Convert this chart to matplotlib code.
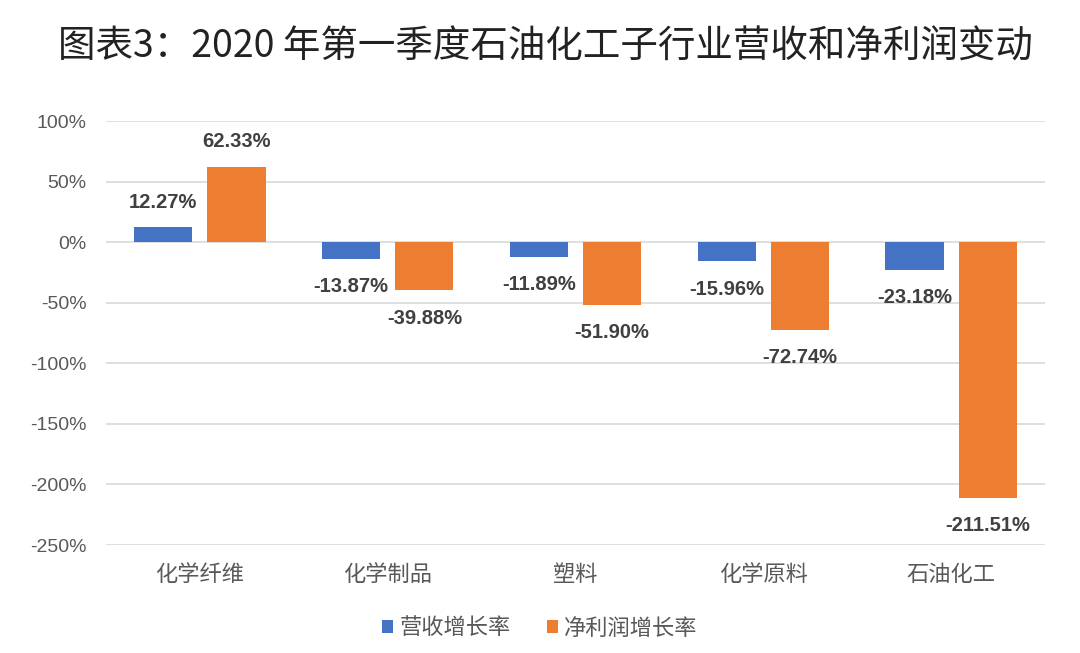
import matplotlib.pyplot as plt
import numpy as np

plt.rcParams['font.family'] = ['Liberation Sans', 'Noto Sans CJK SC', 'DejaVu Sans']

# data
categories = ["化学纤维", "化学制品", "塑料", "化学原料", "石油化工"]
revenue_growth = [12.27, -13.87, -11.89, -15.96, -23.18]
profit_growth = [62.33, -39.88, -51.90, -72.74, -211.51]
series_names = ["营收增长率", "净利润增长率"]
yticks = [100, 50, 0, -50, -100, -150, -200, -250]

blue = '#4472C4'
orange = '#ED7D31'

fig = plt.figure(figsize=(10.8, 6.53), dpi=100)
ax = fig.add_axes([106 / 1080, 1 - 545 / 653, (1045 - 106) / 1080, (545 - 121) / 653])

x = np.arange(len(categories))
w = 0.31
off = 0.195
b1 = ax.bar(x - off, revenue_growth, w, color=blue, zorder=3, label=series_names[0])
b2 = ax.bar(x + off, profit_growth, w, color=orange, zorder=3, label=series_names[1])

# value labels
for bars, vals in ((b1, revenue_growth), (b2, profit_growth)):
    for rect, v in zip(bars, vals):
        cx = rect.get_x() + rect.get_width() / 2
        if v >= 0:
            ax.annotate(f"{v:.2f}%", (cx, v), xytext=(0, 11), textcoords='offset points',
                        ha='center', va='bottom', fontsize=14.5, fontweight='bold',
                        color='#404040', family=['Liberation Sans', 'DejaVu Sans'])
        else:
            ax.annotate(f"{v:.2f}%", (cx, v), xytext=(0, -13), textcoords='offset points',
                        ha='center', va='top', fontsize=14.5, fontweight='bold',
                        color='#404040', family=['Liberation Sans', 'DejaVu Sans'])

ax.set_xlim(-0.5, len(categories) - 0.5)
ax.set_ylim(-250, 100)
ax.set_yticks(yticks)
ax.set_yticklabels([f"{t}%" for t in yticks], fontsize=14, color='#595959')
ax.set_xticks(x)
ax.set_xticklabels(categories, fontsize=16, color='#595959',
                   family=['Noto Sans CJK SC', 'DejaVu Sans'])
ax.tick_params(axis='both', length=0)
ax.tick_params(axis='x', pad=13)
ax.tick_params(axis='y', pad=14)
for s in ax.spines.values():
    s.set_visible(False)
ax.grid(axis='y', color='#D9D9D9', linewidth=1.2, zorder=0)
ax.set_axisbelow(True)

fig.text(0.505, 1 - 47 / 653, "图表3：2020 年第一季度石油化工子行业营收和净利润变动",
         ha='center', va='center', fontsize=27, color='#222222',
         family=['Noto Sans CJK SC', 'DejaVu Sans'])

leg = fig.legend(handles=[b1, b2], labels=series_names, loc='center',
                 bbox_to_anchor=(0.5, 1 - 628 / 653), ncol=2, frameon=False,
                 handlelength=0.5, handleheight=0.5, handletextpad=0.3,
                 columnspacing=1.6, prop={'family': ['Noto Sans CJK SC'], 'size': 16})
for t in leg.get_texts():
    t.set_color('#595959')

fig.savefig("out.png", dpi=100)
